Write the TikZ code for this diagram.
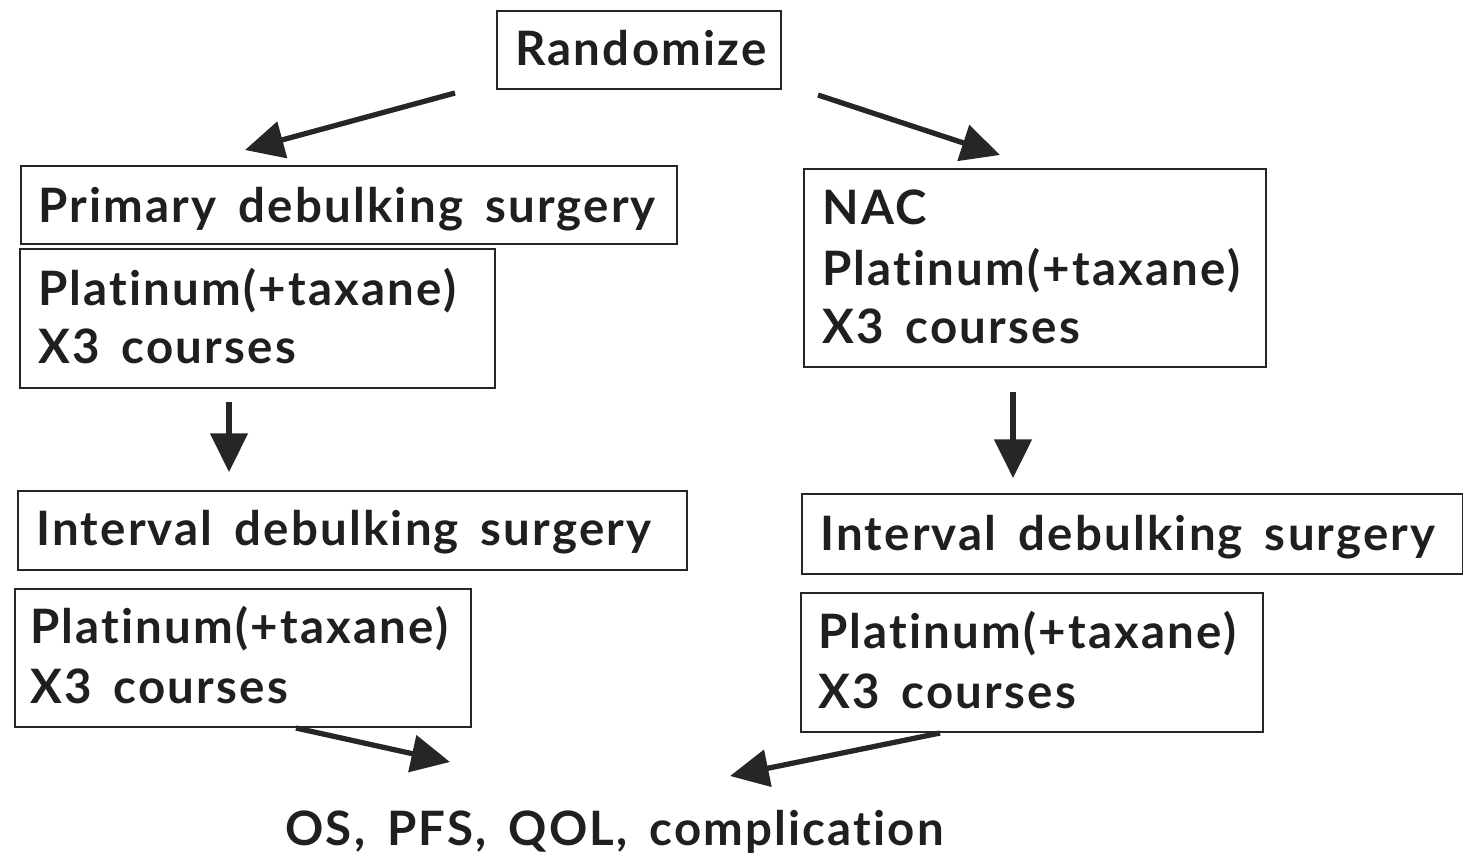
\documentclass[tikz,border=0pt]{standalone}
\usepackage{fontspec}
\setmainfont[Ligatures=NoCommon,LetterSpace=4.6,WordSpace=1.6]{Lato}
\usetikzlibrary{arrows.meta}
\begin{document}
\begin{tikzpicture}[x=0.02cm,y=-0.02cm,
  box/.style={draw=black!85,line width=1.2pt,anchor=north west,inner sep=0pt},
  lbl/.style={anchor=base west,inner sep=0pt,font=\fontsize{27}{32}\selectfont\bfseries,text=black!88},
  arr/.style={line width=3pt,draw=black!85,-{Triangle[length=22pt,width=21pt]}}]
\useasboundingbox (0,0) rectangle (1463,856);
% boxes
\node[box,minimum width=284*0.02cm,minimum height=78*0.02cm] (rand) at (496,10) {};
\node[box,minimum width=656*0.02cm,minimum height=78*0.02cm] (pds) at (20,165) {};
\node[box,minimum width=475*0.02cm,minimum height=139*0.02cm] (pl1) at (19,248) {};
\node[box,minimum width=669*0.02cm,minimum height=79*0.02cm] (ids1) at (17,490) {};
\node[box,minimum width=456*0.02cm,minimum height=138*0.02cm] (pl2) at (14,588) {};
\node[box,minimum width=462*0.02cm,minimum height=198*0.02cm] (nac) at (803,168) {};
\node[box,minimum width=661*0.02cm,minimum height=80*0.02cm] (ids2) at (801,493) {};
\node[box,minimum width=462*0.02cm,minimum height=139*0.02cm] (pl3) at (800,592) {};
% texts
\node[lbl] (tr) at (515,65) {Randomize};
\node[lbl] (tpds) at (38,222) {Primary debulking surgery};
\node[lbl] (tp1a) at (38,305) {Platinum(+taxane)};
\node[lbl] (tp1b) at (38,363) {X3 courses};
\node[lbl] (ti1) at (36,545) {Interval debulking surgery};
\node[lbl] (tp2a) at (30,643) {Platinum(+taxane)};
\node[lbl] (tp2b) at (30,703) {X3 courses};
\node[lbl] (tn1) at (822,224) {NAC};
\node[lbl] (tn2) at (822,285) {Platinum(+taxane)};
\node[lbl] (tn3) at (822,343) {X3 courses};
\node[lbl] (ti2) at (820,550) {Interval debulking surgery};
\node[lbl] (tp3a) at (818,648) {Platinum(+taxane)};
\node[lbl] (tp3b) at (818,708) {X3 courses};
\node[lbl] (out) at (285,845) {OS, PFS, QOL, complication};
% arrow coordinates
\coordinate (a1s) at (455,93); \coordinate (a1e) at (245,150);
\coordinate (a2s) at (818,95); \coordinate (a2e) at (1000,155);
\coordinate (a3s) at (229,402); \coordinate (a3e) at (229,472);
\coordinate (a4s) at (1013,392); \coordinate (a4e) at (1013,478);
\coordinate (a5s) at (296,728); \coordinate (a5e) at (450,762);
\coordinate (a6s) at (940,733); \coordinate (a6e) at (730,776);
\draw[arr] (a1s) -- (a1e);
\draw[arr] (a2s) -- (a2e);
\draw[arr] (a3s) -- (a3e);
\draw[arr] (a4s) -- (a4e);
\draw[arr] (a5s) -- (a5e);
\draw[arr] (a6s) -- (a6e);
\end{tikzpicture}
\end{document}
